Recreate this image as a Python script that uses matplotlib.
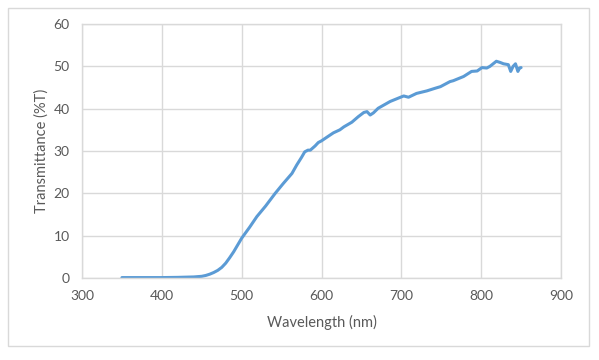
import matplotlib
matplotlib.use("Agg")
import matplotlib.pyplot as plt
from matplotlib.patches import Rectangle

wavelength = [350, 360, 380, 400, 420, 440, 450, 455, 460, 465, 470, 475, 480, 485, 490,
              495, 500, 510, 519, 530, 542, 552, 563, 569, 575, 579, 583, 586, 592, 596,
              600, 611, 615, 623, 628, 638, 646, 653, 657, 661, 665, 671, 686, 699, 703,
              709, 719, 732, 742, 749, 753, 761, 765, 778, 788, 795, 801, 807, 811, 819,
              824, 828, 834, 837, 840, 843, 846, 848, 850]
transmittance = [0.1, 0.1, 0.1, 0.1, 0.15, 0.25, 0.4, 0.6, 0.9, 1.3, 1.8, 2.5, 3.5, 4.8, 6.2,
                 7.8, 9.4, 12.0, 14.5, 17.0, 20.0, 22.3, 24.7, 26.7, 28.5, 29.8, 30.2, 30.2, 31.2, 32.0,
                 32.4, 33.8, 34.3, 35.0, 35.7, 36.8, 38.1, 39.1, 39.3, 38.5, 39.0, 40.1, 41.7, 42.7, 43.0,
                 42.7, 43.6, 44.2, 44.8, 45.2, 45.6, 46.4, 46.6, 47.6, 48.8, 48.9, 49.7, 49.6, 50.0, 51.2,
                 50.9, 50.6, 50.4, 48.8, 50.0, 50.6, 48.8, 49.6, 49.7]

x_ticks = [300, 400, 500, 600, 700, 800, 900]
y_ticks = [0, 10, 20, 30, 40, 50, 60]

plt.rcParams['font.family'] = ['Lato', 'DejaVu Sans']

fig = plt.figure(figsize=(5.99, 3.60), dpi=100)
fig.patches.append(Rectangle((8/599, 1 - 346/360), (589-8)/599, (346-8)/360,
                             transform=fig.transFigure, fill=False,
                             edgecolor='#D9D9D9', linewidth=1.0))
ax = fig.add_axes([82/599, 1 - 278/360, (561-82)/599, (278-24)/360])

ax.plot(wavelength, transmittance, color='#5B9BD5', linewidth=2.2, solid_capstyle='round')

ax.set_xlim(300, 900)
ax.set_ylim(0, 60)
ax.set_xticks(x_ticks)
ax.set_yticks(y_ticks)
ax.grid(True, color='#D9D9D9', linewidth=1.0)
ax.set_axisbelow(True)
for s in ax.spines.values():
    s.set_color('#D9D9D9')
    s.set_linewidth(1.0)
ax.tick_params(axis='x', length=0, labelsize=10, labelcolor='#595959', pad=9)
ax.tick_params(axis='y', length=0, labelsize=10, labelcolor='#595959', pad=9)
ax.set_xlabel('Wavelength (nm)', fontsize=10.5, color='#595959', labelpad=9)
ax.set_ylabel('Transmittance (%T)', fontsize=10.5, color='#595959', labelpad=3)

fig.savefig('out.png', dpi=100)
